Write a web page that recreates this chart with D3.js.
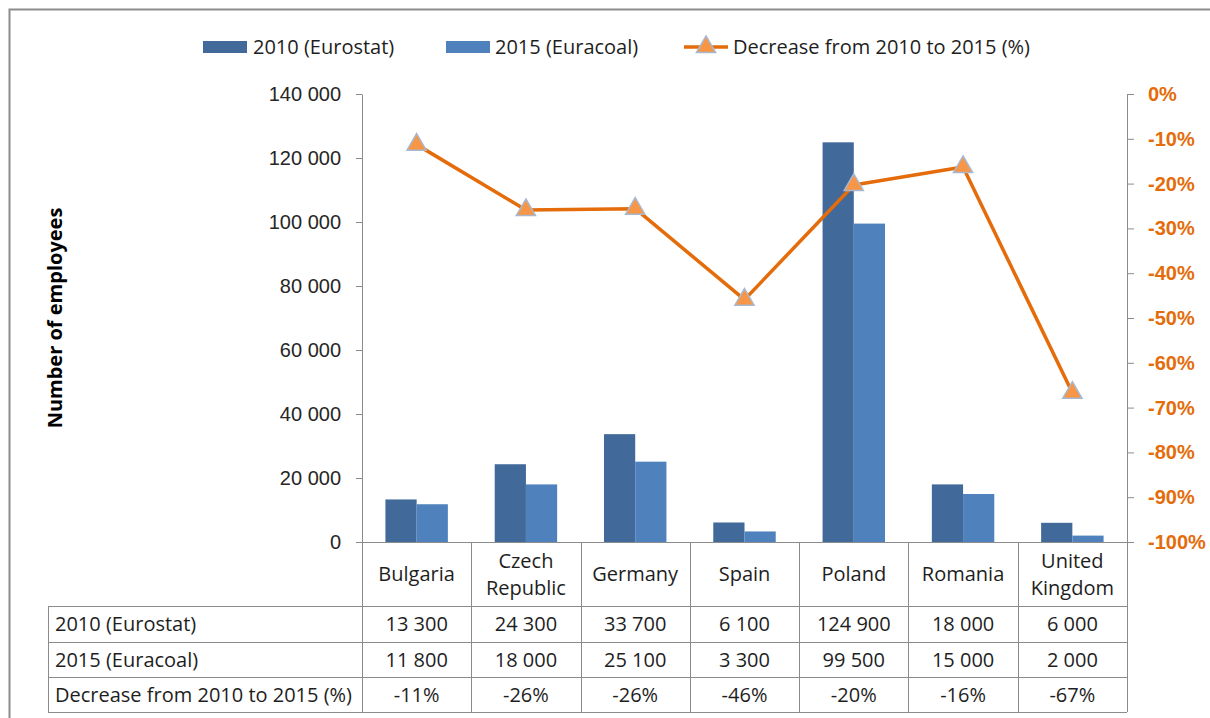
<!DOCTYPE html>
<html>
<head>
<meta charset="utf-8">
<script src="https://cdn.jsdelivr.net/npm/d3@7"></script>
<style>
  html, body { margin: 0; padding: 0; background: #fff; }
  svg { display: block; font-family: "Open Sans", "Lato", "Liberation Sans", sans-serif; }
</style>
</head>
<body>
<svg id="chart" width="1210" height="718"></svg>
<script>
// Coal-mining employment by country
const categories = ["Bulgaria", "Czech Republic", "Germany", "Spain", "Poland", "Romania", "United Kingdom"];
const employees2010 = [13300, 24300, 33700, 6100, 124900, 18000, 6000];
const employees2015 = [11800, 18000, 25100, 3300, 99500, 15000, 2000];
const decreasePct = [-11.3, -25.9, -25.6, -45.9, -20.3, -16.3, -66.7];
const seriesNames = ["2010 (Eurostat)", "2015 (Euracoal)", "Decrease from 2010 to 2015 (%)"];
const leftTicks = [0, 20000, 40000, 60000, 80000, 100000, 120000, 140000];
const rightTicks = [0, -10, -20, -30, -40, -50, -60, -70, -80, -90, -100];

const colors = { y2010: "#41699A", y2015: "#4F81BD", line: "#E46C0A", marker: "#F79646", markerEdge: "#A8B8D0" };
const axisColor = "#8C8C8C";
const textColor = "#1E1E1E";
const fontSize = "20px";

const svg = d3.select("#chart");
const plot = { left: 362, right: 1127, top: 94, bottom: 542 };
const table = { left: 48, rowTops: [606, 642, 677], bottom: 712 };

const fmtNum = v => d3.format(",")(v).replace(/,/g, " ");

// outer frame
svg.append("path")
  .attr("d", `M9.5,720 V9.5 H1212`)
  .attr("fill", "none").attr("stroke", "#8C8C8C").attr("stroke-width", 2);

const x = d3.scaleBand().domain(categories).range([plot.left, plot.right]).padding(0);
const xInner = d3.scaleBand().domain(["y2010", "y2015"]).range([0, x.bandwidth()]).paddingInner(0).paddingOuter(0.75);
const yLeft = d3.scaleLinear().domain([0, 140000]).range([plot.bottom, plot.top]);
const yRight = d3.scaleLinear().domain([-100, 0]).range([plot.bottom, plot.top]);

// bars
const barData = categories.map((c, i) => ({ c, y2010: employees2010[i], y2015: employees2015[i] }));
const groups = svg.append("g").selectAll("g").data(barData).join("g")
  .attr("transform", d => `translate(${x(d.c)},0)`);
["y2010", "y2015"].forEach(k => {
  groups.append("rect")
    .attr("x", xInner(k))
    .attr("width", xInner.bandwidth())
    .attr("y", d => yLeft(d[k]))
    .attr("height", d => yLeft(0) - yLeft(d[k]))
    .attr("fill", colors[k]);
});

// left axis
const gl = svg.append("g").attr("transform", `translate(${plot.left},0)`)
  .call(d3.axisLeft(yLeft).tickValues(leftTicks).tickFormat(fmtNum).tickSizeInner(6).tickSizeOuter(0).tickPadding(15));
gl.select(".domain").attr("stroke", axisColor);
gl.selectAll(".tick line").attr("stroke", axisColor);
gl.selectAll(".tick text").attr("fill", "#262626").style("font-size", fontSize).style("font-family", "inherit");

// right axis
const gr = svg.append("g").attr("transform", `translate(${plot.right},0)`)
  .call(d3.axisRight(yRight).tickValues(rightTicks).tickFormat(v => `${v}%`).tickSizeInner(7).tickSizeOuter(0).tickPadding(14));
gr.select(".domain").attr("stroke", axisColor);
gr.selectAll(".tick line").attr("stroke", axisColor);
gr.selectAll(".tick text").attr("fill", colors.line).style("font-size", fontSize).style("font-weight", "bold").style("font-family", "inherit");

// left axis title
svg.append("text")
  .attr("transform", `translate(62,318) rotate(-90)`)
  .attr("text-anchor", "middle")
  .style("font-size", fontSize).style("font-weight", "bold").attr("fill", "#000")
  .text("Number of employees");

// data table grid
const grid = svg.append("g").attr("stroke", axisColor).attr("stroke-width", 1).attr("fill", "none");
grid.append("line").attr("x1", plot.left).attr("x2", plot.right).attr("y1", plot.bottom + 0.5).attr("y2", plot.bottom + 0.5);
table.rowTops.concat([table.bottom]).forEach(yv => {
  grid.append("line").attr("x1", table.left).attr("x2", plot.right).attr("y1", yv + 0.5).attr("y2", yv + 0.5);
});
grid.append("line").attr("x1", table.left + 0.5).attr("x2", table.left + 0.5).attr("y1", table.rowTops[0]).attr("y2", table.bottom);
categories.concat([null]).forEach(c => {
  const xv = c === null ? plot.right : x(c);
  grid.append("line").attr("x1", Math.round(xv) + 0.5).attr("x2", Math.round(xv) + 0.5).attr("y1", plot.bottom).attr("y2", table.bottom);
});

// category labels (two-word names wrap onto two lines)
const catG = svg.append("g").style("font-size", fontSize).attr("fill", textColor).attr("text-anchor", "middle");
categories.forEach(c => {
  const words = c.split(" ");
  const cx = x(c) + x.bandwidth() / 2;
  const t = catG.append("text").attr("x", cx).attr("y", words.length > 1 ? 561 : 574);
  words.forEach((w, j) => {
    t.append("tspan").attr("x", cx).attr("dy", j === 0 ? "0.35em" : "27px").text(w);
  });
});

// table rows
const rows = [
  { name: seriesNames[0], vals: employees2010.map(fmtNum) },
  { name: seriesNames[1], vals: employees2015.map(fmtNum) },
  { name: seriesNames[2], vals: decreasePct.map(v => `${Math.round(v)}%`) }
];
const rowG = svg.append("g").style("font-size", fontSize).attr("fill", textColor);
rows.forEach((r, i) => {
  const cy = (table.rowTops[i] + (table.rowTops[i + 1] || table.bottom)) / 2;
  rowG.append("text").attr("x", table.left + 7).attr("y", cy).attr("dy", "0.35em").text(r.name);
  r.vals.forEach((v, j) => {
    rowG.append("text").attr("x", x(categories[j]) + x.bandwidth() / 2).attr("y", cy).attr("dy", "0.35em")
      .attr("text-anchor", "middle").text(v);
  });
});

// decrease line with triangle markers
const cx = c => x(c) + x.bandwidth() / 2;
const lineData = categories.map((c, i) => ({ c, v: decreasePct[i] }));
svg.append("path").datum(lineData)
  .attr("d", d3.line().x(d => cx(d.c)).y(d => yRight(d.v)))
  .attr("fill", "none").attr("stroke", colors.line).attr("stroke-width", 3.5).attr("stroke-linejoin", "round");
const tri = d3.symbol(d3.symbolTriangle, 160);
svg.append("g").selectAll("path").data(lineData).join("path")
  .attr("transform", d => `translate(${cx(d.c)},${yRight(d.v)})`)
  .attr("d", tri)
  .attr("fill", colors.marker).attr("stroke", colors.markerEdge).attr("stroke-width", 1.5);

// legend
const leg = svg.append("g").style("font-size", fontSize).attr("fill", textColor);
const legY = 47;
leg.append("rect").attr("x", 203).attr("y", legY - 6).attr("width", 44).attr("height", 12).attr("fill", colors.y2010);
leg.append("text").attr("x", 253).attr("y", legY).attr("dy", "0.35em").text(seriesNames[0]);
leg.append("rect").attr("x", 446).attr("y", legY - 6).attr("width", 44).attr("height", 12).attr("fill", colors.y2015);
leg.append("text").attr("x", 495).attr("y", legY).attr("dy", "0.35em").text(seriesNames[1]);
leg.append("line").attr("x1", 684).attr("x2", 728).attr("y1", legY).attr("y2", legY)
  .attr("stroke", colors.line).attr("stroke-width", 3.5);
leg.append("path").attr("transform", `translate(706,${legY})`).attr("d", tri)
  .attr("fill", colors.marker).attr("stroke", colors.markerEdge).attr("stroke-width", 1.5);
leg.append("text").attr("x", 733).attr("y", legY).attr("dy", "0.35em").text(seriesNames[2]);
</script>
</body>
</html>
